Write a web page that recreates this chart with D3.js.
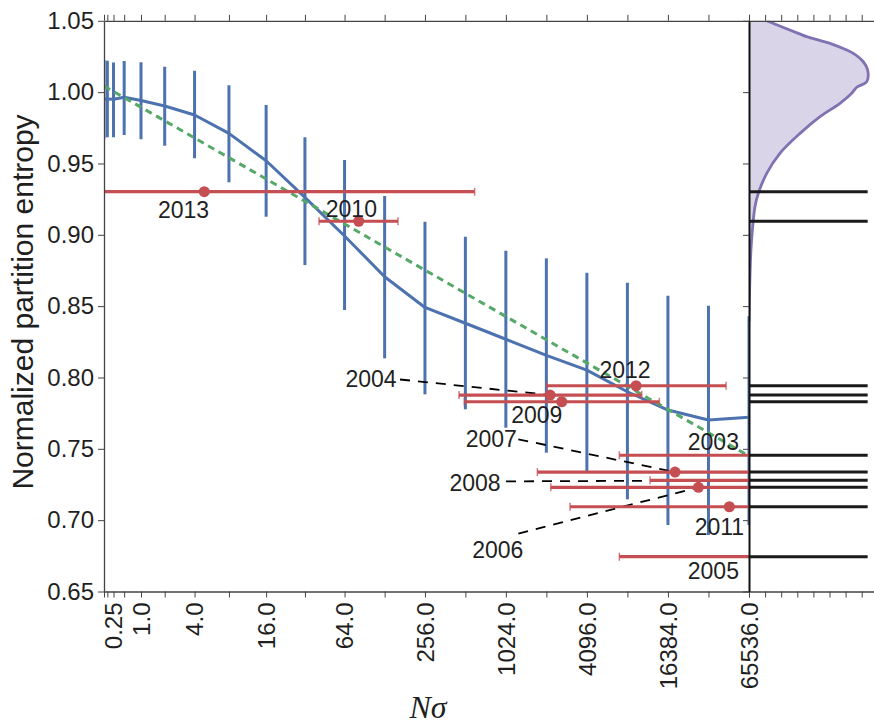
<!DOCTYPE html>
<html>
<head>
<meta charset="utf-8">
<script src="https://cdn.jsdelivr.net/npm/d3@7"></script>
<style>
  body { margin: 0; background: #fff; }
  svg { display: block; }
  text { font-family: "Liberation Sans", Arial, sans-serif; fill: #1f1f1f; }
</style>
</head>
<body>
<svg id="chart" width="874" height="727"></svg>
<script>
// ---- simulated entropy vs N·sigma (mean and spread) ----
const nSigma = [0.0625, 0.125, 0.25, 0.5, 1, 2, 4, 8, 16, 32, 64, 128, 256, 512,
                1024, 2048, 4096, 8192, 16384, 32768, 65536];
const entropyMean = [0.9952, 0.9952, 0.9950, 0.9964, 0.9941, 0.9903, 0.9840, 0.9711, 0.9519,
                     0.9263, 0.8992, 0.8706, 0.8491, 0.8380, 0.8268, 0.8155, 0.8052, 0.7900,
                     0.7772, 0.7702, 0.7721];
const entropyHigh = [1.0225, 1.0220, 1.0208, 1.0218, 1.0209, 1.0178, 1.0150, 1.0048, 0.9910,
                     0.9683, 0.9524, 0.9272, 0.9092, 0.8987, 0.8889, 0.8835, 0.8734, 0.8664,
                     0.8573, 0.8503, 0.8430];
const entropyLow  = [0.9676, 0.9683, 0.9683, 0.9700, 0.9669, 0.9625, 0.9536, 0.9368, 0.9127,
                     0.8788, 0.8473, 0.8134, 0.7882, 0.7777, 0.7648, 0.7473, 0.7343, 0.7146,
                     0.6966, 0.6896, 0.6966];

// ---- log-linear trend ----
const fitNsigma  = [0.0625, 65536];
const fitEntropy = [1.0043, 0.7450];

// ---- yearly estimates with N·sigma intervals ----
const years       = ["2003", "2004", "2005", "2006", "2007", "2008", "2009", "2010", "2011", "2012", "2013"];
const yearEntropy = [0.7455, 0.7877, 0.6744, 0.7230, 0.7337, 0.7279, 0.7830, 0.9095, 0.7094, 0.7942, 0.9302];
const yearNsigma  = [131000, 2183, 131000, 27580, 18510, 92000, 2666, 81.8, 46850, 9499, 4.9];
const yearLow     = [7140, 459, 7140, 2209, 1756, 12070, 503, 41, 3072, 2061, 0];
const yearHigh    = [2400000, 10470, 2400000, 343000, 196000, 690000, 14150, 161, 715000, 44270, 600];

// ---- where each year label sits (data coordinates) and where its leader starts ----
const labelNsigma   = [35640, 101.2, 35640, 891, 798.6, 604, 1738, 72, 39490, 7868, 3.14];
const labelEntropy  = [0.7492, 0.7935, 0.6585, 0.6733, 0.7511, 0.7206, 0.7683, 0.9123, 0.6896, 0.7994, 0.9116];
const leaderNsigma  = [null, 166.8, null, 1268, 1268, 1027, null, null, null, null, null];
const leaderEntropy = [null, 0.7986, null, 0.6906, 0.7567, 0.7272, null, null, null, null, null];

// ---- density of simulated entropies (side panel) ----
const kdeEntropy = [1.0500, 1.0412, 1.0389, 1.0342, 1.0295, 1.0272, 1.0213, 1.0155, 1.0073, 1.0034,
                    0.9992, 0.9922, 0.9828, 0.9711, 0.9571, 0.9431, 0.9291, 0.9197, 0.9057, 0.8893,
                    0.8620, 0.8390];
const kdeDensity = [1.10, 3.06, 3.58, 5.03, 6.07, 6.48, 7.10, 7.37, 7.31, 6.69,
                    6.38, 5.65, 4.41, 3.17, 1.92, 1.10, 0.58, 0.37, 0.23, 0.12,
                    0.04, 0.00];

// ---- axis ticks ----
const xTicks = d3.range(-4, 17).map(k => Math.pow(2, k));
const xTickLabels = [0.25, 1, 4, 16, 64, 256, 1024, 4096, 16384, 65536];
const yTicks = [0.65, 0.70, 0.75, 0.80, 0.85, 0.90, 0.95, 1.00, 1.05];
const densityTicks = [0, 1, 2, 3, 4, 5, 6, 7, 8];

// ---- colours ----
const BLUE = "#4c72b0", GREEN = "#55a868", RED = "#c44e52", PURPLE = "#8172b2";

const svg = d3.select("#chart");
const plot = { left: 104, right: 749, top: 20.8, bottom: 591.5 };
const side = { left: 749, right: 878 };

const x = d3.scaleSymlog().constant(1).domain([0.0625, 65536]).range([plot.left, plot.right]);
const y = d3.scaleLinear().domain([0.65, 1.05]).range([plot.bottom, plot.top]);
const xd = d3.scaleLinear().domain([0, 8]).range([side.left, side.left + 16.1 * 8]);

const defs = svg.append("defs");
defs.append("clipPath").attr("id", "clipMain").append("rect")
  .attr("x", plot.left).attr("y", plot.top)
  .attr("width", plot.right - plot.left).attr("height", plot.bottom - plot.top);
defs.append("clipPath").attr("id", "clipSide").append("rect")
  .attr("x", side.left).attr("y", plot.top)
  .attr("width", side.right - side.left).attr("height", plot.bottom - plot.top);

// ---- side panel: density curve and year markers ----
const gSide = svg.append("g").attr("clip-path", "url(#clipSide)");
const kde = kdeEntropy.map((e, i) => ({ e, d: kdeDensity[i] }));
gSide.append("path")
  .datum(kde)
  .attr("fill", PURPLE).attr("fill-opacity", 0.3)
  .attr("d", d3.area().y(p => y(p.e)).x0(xd(0)).x1(p => xd(p.d)).curve(d3.curveCatmullRom));
gSide.append("path")
  .datum(kde)
  .attr("fill", "none").attr("stroke", PURPLE).attr("stroke-width", 2.8)
  .attr("d", d3.line().y(p => y(p.e)).x(p => xd(p.d)).curve(d3.curveCatmullRom));
const maxDensity = d3.max(kdeDensity);
gSide.selectAll("line.mark").data(yearEntropy).join("line")
  .attr("class", "mark")
  .attr("x1", xd(0)).attr("x2", xd(maxDensity))
  .attr("y1", d => y(d)).attr("y2", d => y(d))
  .attr("stroke", "#1a1a1a").attr("stroke-width", 3);

// ---- main panel ----
const gMain = svg.append("g").attr("clip-path", "url(#clipMain)");
const sim = nSigma.map((n, i) => ({ n, m: entropyMean[i], lo: entropyLow[i], hi: entropyHigh[i] }));

gMain.selectAll("line.spread").data(sim).join("line")
  .attr("class", "spread")
  .attr("x1", d => x(d.n)).attr("x2", d => x(d.n))
  .attr("y1", d => y(d.lo)).attr("y2", d => y(d.hi))
  .attr("stroke", BLUE).attr("stroke-width", 3);

gMain.append("path").datum(sim)
  .attr("fill", "none").attr("stroke", BLUE).attr("stroke-width", 3)
  .attr("stroke-linejoin", "round")
  .attr("d", d3.line().x(d => x(d.n)).y(d => y(d.m)));

gMain.append("line")
  .attr("x1", x(fitNsigma[0])).attr("y1", y(fitEntropy[0]))
  .attr("x2", x(fitNsigma[1])).attr("y2", y(fitEntropy[1]))
  .attr("stroke", GREEN).attr("stroke-width", 3).attr("stroke-dasharray", "7,5");

const yr = years.map((label, i) => ({
  label, e: yearEntropy[i], n: yearNsigma[i], lo: yearLow[i], hi: yearHigh[i],
  ln: labelNsigma[i], le: labelEntropy[i], sn: leaderNsigma[i], se: leaderEntropy[i]
}));

// leader lines from labels to their estimates
gMain.selectAll("line.leader").data(yr.filter(d => d.sn !== null)).join("line")
  .attr("class", "leader")
  .attr("x1", d => x(d.sn)).attr("y1", d => y(d.se))
  .attr("x2", d => x(d.n)).attr("y2", d => y(d.e))
  .attr("stroke", "#000").attr("stroke-width", 1.8).attr("stroke-dasharray", "10,8");

// yearly intervals
gMain.selectAll("line.interval").data(yr).join("line")
  .attr("class", "interval")
  .attr("x1", d => x(d.lo)).attr("x2", d => x(d.hi))
  .attr("y1", d => y(d.e)).attr("y2", d => y(d.e))
  .attr("stroke", RED).attr("stroke-width", 3.2);
const caps = yr.flatMap(d => [{ n: d.lo, e: d.e }, { n: d.hi, e: d.e }]);
gMain.selectAll("line.cap").data(caps).join("line")
  .attr("class", "cap")
  .attr("x1", d => x(d.n)).attr("x2", d => x(d.n))
  .attr("y1", d => y(d.e) - 4).attr("y2", d => y(d.e) + 4)
  .attr("stroke", RED).attr("stroke-opacity", 0.75).attr("stroke-width", 1.5);
gMain.selectAll("circle.est").data(yr).join("circle")
  .attr("class", "est")
  .attr("cx", d => x(d.n)).attr("cy", d => y(d.e)).attr("r", 5.5)
  .attr("fill", RED);

// year labels
svg.append("g").selectAll("text").data(yr).join("text")
  .attr("x", d => x(d.ln)).attr("y", d => y(d.le))
  .attr("text-anchor", "middle")
  .style("font-size", "23px")
  .text(d => d.label);

// ---- axes ----
const fmtX = d => Number.isInteger(d) ? d.toFixed(1) : String(d);
function styleAxis(g) {
  g.select(".domain").attr("stroke", "#444").attr("stroke-width", 1.3);
  g.selectAll(".tick line").attr("stroke", "#444").attr("stroke-width", 1);
}

const gx = svg.append("g").attr("transform", `translate(0,${plot.bottom})`)
  .call(d3.axisBottom(x).tickValues(xTicks).tickSize(6).tickSizeOuter(0)
    .tickFormat(d => xTickLabels.includes(d) ? fmtX(d) : ""));
styleAxis(gx);
gx.selectAll(".tick text")
  .attr("transform", "rotate(-90)")
  .attr("x", -11).attr("y", 0).attr("dy", "0.35em")
  .attr("text-anchor", "end")
  .style("font-size", "24px").style("font-family", "Liberation Sans, Arial, sans-serif")
  .attr("fill", "#1f1f1f");

const gxTop = svg.append("g").attr("transform", `translate(0,${plot.top})`)
  .call(d3.axisTop(x).tickValues(xTicks).tickSize(6).tickSizeOuter(0).tickFormat(""));
styleAxis(gxTop);

const gy = svg.append("g").attr("transform", `translate(${plot.left},0)`)
  .call(d3.axisLeft(y).tickValues(yTicks).tickSize(6).tickSizeOuter(0).tickPadding(4)
    .tickFormat(d3.format(".2f")));
styleAxis(gy);
gy.selectAll(".tick text")
  .style("font-size", "24px").style("font-family", "Liberation Sans, Arial, sans-serif")
  .attr("fill", "#1f1f1f");

// side panel axes
const gdTop = svg.append("g").attr("transform", `translate(0,${plot.top})`)
  .call(d3.axisTop(xd).tickValues(densityTicks).tickSize(6).tickSizeOuter(0).tickFormat(""));
styleAxis(gdTop);
const gdBot = svg.append("g").attr("transform", `translate(0,${plot.bottom})`)
  .call(d3.axisBottom(xd).tickValues(densityTicks).tickSize(6).tickSizeOuter(0).tickFormat(""));
styleAxis(gdBot);
const gdLeft = svg.append("g").attr("transform", `translate(${side.left},0)`)
  .call(d3.axisLeft(y).tickValues(yTicks).tickSize(6).tickSizeOuter(0).tickFormat(""));
styleAxis(gdLeft);
gdLeft.select(".domain").attr("stroke", "#111").attr("stroke-width", 2);

// ---- axis titles ----
svg.append("text")
  .attr("transform", "translate(33,302) rotate(-90)")
  .attr("text-anchor", "middle")
  .style("font-size", "30px")
  .text("Normalized partition entropy");

svg.append("text")
  .attr("x", 428).attr("y", 718)
  .attr("text-anchor", "middle")
  .style("font-family", "Liberation Serif, Times New Roman, serif")
  .style("font-style", "italic")
  .style("font-size", "32px")
  .text("Nσ");
</script>
</body>
</html>
